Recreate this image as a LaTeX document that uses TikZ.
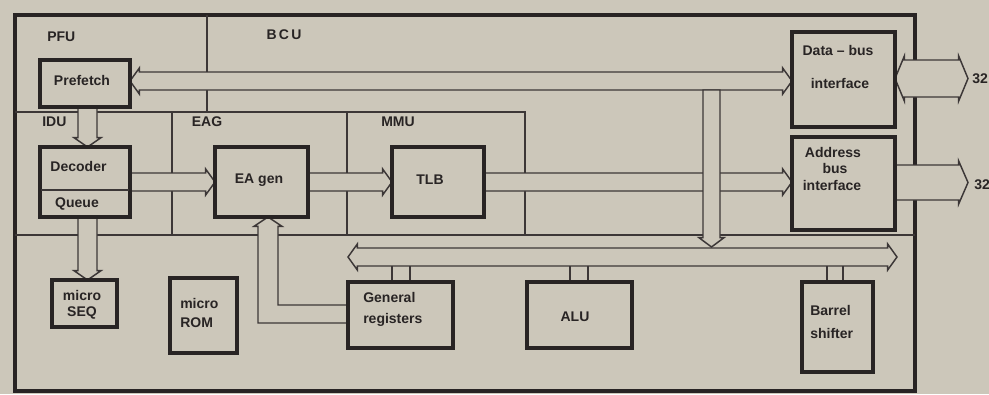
\documentclass[tikz,border=0pt]{standalone}
\usepackage{fontspec}
\setmainfont{Liberation Sans}
\usetikzlibrary{calc}
\definecolor{bg}{RGB}{204,199,186}
\definecolor{ln}{RGB}{60,55,55}
\definecolor{bx}{RGB}{40,36,36}
\pgfdeclarelayer{back}
\pgfsetlayers{back,main}
\def\hh{7pt}\def\ff{3pt}
% horizontal bus, head at end (pointing to #2); #3,#4 image y of the two lines
\newcommand\busR[4]{%
  \path[bus] let \p1=(#1), \p2=(#2), \p3=(0,#3), \p4=(0,#4) in
   (\x1,\y3) -- ({\x2-\hh},\y3) -- ({\x2-\hh},{\y3+\ff}) -- (\x2,{0.5*\y3+0.5*\y4})
   -- ({\x2-\hh},{\y4-\ff}) -- ({\x2-\hh},\y4) -- (\x1,\y4) -- cycle;}
% horizontal bus, heads at both ends
\newcommand\busLR[4]{%
  \path[bus] let \p1=(#1), \p2=(#2), \p3=(0,#3), \p4=(0,#4) in
   (\x1,{0.5*\y3+0.5*\y4}) -- ({\x1+\hh},{\y3+\ff}) -- ({\x1+\hh},\y3)
   -- ({\x2-\hh},\y3) -- ({\x2-\hh},{\y3+\ff}) -- (\x2,{0.5*\y3+0.5*\y4})
   -- ({\x2-\hh},{\y4-\ff}) -- ({\x2-\hh},\y4) -- ({\x1+\hh},\y4)
   -- ({\x1+\hh},{\y4-\ff}) -- cycle;}
% vertical bus, head at end (downwards); #3,#4 image x of the two lines
\newcommand\busD[4]{%
  \path[bus] let \p1=(#1), \p2=(#2), \p3=(#3,0), \p4=(#4,0) in
   (\x3,\y1) -- (\x3,{\y2+\hh}) -- ({\x3-\ff},{\y2+\hh}) -- ({0.5*\x3+0.5*\x4},\y2)
   -- ({\x4+\ff},{\y2+\hh}) -- (\x4,{\y2+\hh}) -- (\x4,\y1) -- cycle;}
\begin{document}
\begin{tikzpicture}[x=0.75pt,y=-0.75pt,
  box/.style={draw=bx, line width=3pt, fill=bg, outer sep=0pt, inner sep=0pt},
  lbl/.style={font=\fontsize{10.5}{12}\selectfont\bfseries, text=bx, inner sep=0pt},
  bus/.style={fill=bg, draw=ln, line width=1.1pt, line join=miter},
  thinln/.style={draw=ln, line width=1.1pt}]
\useasboundingbox (0,0) rectangle (989,394);

% boxes
\node[box, minimum width=67.5pt, minimum height=35.25pt] (pre) at (85,83.5) {};
\node[box, minimum width=67.5pt, minimum height=52.5pt] (dec) at (85,182) {};
\node[box, minimum width=69.75pt, minimum height=52.5pt] (eag) at (261.5,182) {};
\node[box, minimum width=69pt, minimum height=52.5pt] (tlb) at (438,182) {};
\node[box, minimum width=77.25pt, minimum height=71.25pt] (dbi) at (843.5,79.5) {};
\node[box, minimum width=77.25pt, minimum height=69.75pt] (abi) at (843.5,183.5) {};
\node[box, minimum width=48.75pt, minimum height=35.25pt] (seq) at (84.5,303.5) {};
\node[box, minimum width=50.25pt, minimum height=56.25pt] (rom) at (203.5,315.5) {};
\node[box, minimum width=78.75pt, minimum height=49.5pt] (gr) at (400.5,315) {};
\node[box, minimum width=78.75pt, minimum height=49.5pt] (alu) at (579.5,315) {};
\node[box, minimum width=53.25pt, minimum height=67.5pt] (bs) at (837.5,327) {};
\draw[thinln] ($(dec.west)+(1,8)$) -- ($(dec.east)+(-1,8)$);

% free ends of buses
\coordinate (dv1) at (711.5,90);
\coordinate (dv2) at (711.5,247);
\coordinate (ibL) at (348,257);
\coordinate (ibR) at (897,257);
\coordinate (dx) at (968,78.5);
\coordinate (ax) at (968,182.5);

\begin{pgfonlayer}{back}
  \fill[bg] (0,0) rectangle (989,394);
  \draw[draw=bx, line width=3pt] (15,15) rectangle (915,391);
  \draw[thinln] (15,112) -- (525,112) -- (525,235);
  \draw[thinln] (15,235) -- (915,235);
  \draw[thinln] (172,112) -- (172,235);
  \draw[thinln] (347,112) -- (347,235);
  \draw[thinln] (207,15) -- (207,112);
  \busLR{pre.east}{dbi.west}{72}{90}
  \busR{dec.east}{eag.west}{173}{191}
  \busR{eag.east}{tlb.west}{173}{191}
  \busR{tlb.east}{abi.west}{173}{191}
  \busD{dv1}{dv2}{703}{720}
  \busLR{ibL}{ibR}{248}{266}
  \busD{pre.south}{dec.north}{78}{97}
  \busD{dec.south}{seq.north}{78}{97}
  \path[bus] let \p1=(gr.west), \p2=(eag.south), \p3=(258,323), \p4=(278,305) in
   (\x1,\y3) -- (\x3,\y3) -- (\x3,{\y2-\hh}) -- ({\x3-\ff},{\y2-\hh}) -- ({0.5*\x3+0.5*\x4},\y2)
   -- ({\x4+\ff},{\y2-\hh}) -- (\x4,{\y2-\hh}) -- (\x4,\y4) -- (\x1,\y4) -- cycle;
  \busLR{dbi.east}{dx}{60}{97}
  \busR{abi.east}{ax}{165}{200}
  % bus taps
  \draw[thinln] ($(gr.north)+(-8.5,0)$) -- ++(0,-16);
  \draw[thinln] ($(gr.north)+(9.5,0)$) -- ++(0,-16);
  \draw[thinln] ($(alu.north)+(-9.5,0)$) -- ++(0,-16);
  \draw[thinln] ($(alu.north)+(8.5,0)$) -- ++(0,-16);
  \draw[thinln] ($(bs.north)+(-10.5,0)$) -- ++(0,-16);
  \draw[thinln] ($(bs.north)+(5.5,0)$) -- ++(0,-16);
\end{pgfonlayer}

% region labels
\node[lbl, anchor=west] (lpfu) at (47,37) {PFU};
\node[lbl] (lbcu) at (284,35) {B\,C\,U};
\node[lbl, anchor=west] (lidu) at (42,122) {IDU};
\node[lbl] (leag) at (207,122) {EAG};
\node[lbl] (lmmu) at (398,122) {MMU};

% box texts
\node[lbl] (tpre) at (82,80) {Prefetch};
\node[lbl] (tdec) at (78.5,166) {Decoder};
\node[lbl] (tque) at (77,204) {Queue};
\node[lbl] (teag) at (259,180) {EA gen};
\node[lbl] (ttlb) at (430,180) {TLB};
\node[lbl] (tdb1) at (838,50) {Data – bus};
\node[lbl] (tdb2) at (840,83) {interface};
\node[lbl] (tab1) at (833,152) {Address};
\node[lbl] (tab2) at (835,168) {bus};
\node[lbl] (tab3) at (832,185) {interface};
\node[lbl] (tsq1) at (82,295) {micro};
\node[lbl] (tsq2) at (82,313) {SEQ};
\node[lbl, anchor=west] (trm1) at (180,303) {micro};
\node[lbl, anchor=west] (trm2) at (180,323) {ROM};
\node[lbl, anchor=west] (tgr1) at (363,297) {General};
\node[lbl, anchor=west] (tgr2) at (363,320) {registers};
\node[lbl] (talu) at (575,317) {ALU};
\node[lbl, anchor=west] (tbs1) at (810,310) {Barrel};
\node[lbl, anchor=west] (tbs2) at (810,333) {shifter};
\node[lbl, anchor=west] (n32a) at (972,79) {32};
\node[lbl, anchor=west] (n32b) at (974,185) {32};
\end{tikzpicture}
\end{document}
